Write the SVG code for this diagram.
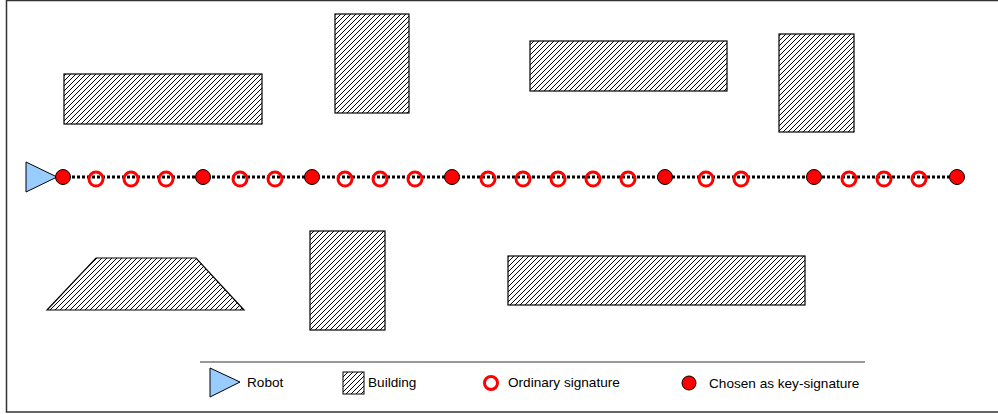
<svg xmlns="http://www.w3.org/2000/svg" width="998" height="414" viewBox="0 0 998 414">
<defs>
<pattern id="hatch" patternUnits="userSpaceOnUse" width="5" height="5">
<path d="M-1,1 L1,-1 M0,5 L5,0 M4,6 L6,4" stroke="#000" stroke-width="1"/>
</pattern>
</defs>
<style>
.bld{fill:url(#hatch);stroke:#000;stroke-width:1.2}
.key{fill:#ff0000;stroke:#000;stroke-width:1}
.ord{fill:none;stroke:#ff0000;stroke-width:3}
.robot{fill:#99ccff;stroke:#000;stroke-width:1}
.lbl{font-family:"Liberation Sans",Arial,sans-serif;font-size:13.6px;fill:#000}
</style>
<rect x="0" y="0" width="998" height="414" fill="#fff"/>
<rect x="6.5" y="0.5" width="1000" height="411.5" fill="none" stroke="#333" stroke-width="1.5"/>
<g id="building1"><rect class="bld" x="64" y="74" width="198" height="50"/></g>
<g id="building2"><rect class="bld" x="335" y="14" width="74" height="99"/></g>
<g id="building3"><rect class="bld" x="530" y="41" width="197" height="50"/></g>
<g id="building4"><rect class="bld" x="779" y="34" width="75" height="98"/></g>
<g id="building5"><polygon class="bld" points="96,258 196,258 244,310 47,310"/></g>
<g id="building6"><rect class="bld" x="310" y="231" width="75" height="99"/></g>
<g id="building7"><rect class="bld" x="508" y="256" width="297" height="49"/></g>
<g id="connectors">
<line x1="57" y1="177" x2="963" y2="177" stroke="#000" stroke-width="3" stroke-dasharray="3,2"/>
</g>
<g id="robot"><polygon class="robot" points="26,162 57,177 26,192"/></g>
<g id="signatures">
<circle class="key" cx="63" cy="177" r="7.5"/>
<circle class="ord" cx="96" cy="179" r="7"/>
<circle class="ord" cx="131" cy="179" r="7"/>
<circle class="ord" cx="166" cy="179" r="7"/>
<circle class="key" cx="203" cy="177" r="7.5"/>
<circle class="ord" cx="240" cy="179" r="7"/>
<circle class="ord" cx="275" cy="179" r="7"/>
<circle class="key" cx="312" cy="177" r="7.5"/>
<circle class="ord" cx="345" cy="179" r="7"/>
<circle class="ord" cx="380" cy="179" r="7"/>
<circle class="ord" cx="415" cy="179" r="7"/>
<circle class="key" cx="452" cy="177" r="7.5"/>
<circle class="ord" cx="488" cy="179" r="7"/>
<circle class="ord" cx="523" cy="179" r="7"/>
<circle class="ord" cx="558" cy="179" r="7"/>
<circle class="ord" cx="593" cy="179" r="7"/>
<circle class="ord" cx="628" cy="179" r="7"/>
<circle class="key" cx="665" cy="177" r="7.5"/>
<circle class="ord" cx="706" cy="179" r="7"/>
<circle class="ord" cx="741" cy="179" r="7"/>
<circle class="key" cx="814" cy="177" r="7.5"/>
<circle class="ord" cx="849" cy="179" r="7"/>
<circle class="ord" cx="884" cy="179" r="7"/>
<circle class="ord" cx="919" cy="179" r="7"/>
<circle class="key" cx="957" cy="177" r="7.5"/>
</g>
<g id="legend">
<line x1="200" y1="362" x2="865" y2="362" stroke="#333" stroke-width="1"/>
<polygon class="robot" points="210,368 240,382 210,397"/>
<text class="lbl" x="247" y="387">Robot</text>
<rect class="bld" x="343" y="372" width="21" height="22" style="stroke-width:1"/>
<text class="lbl" x="368" y="387">Building</text>
<circle class="ord" cx="491" cy="383" r="6.5"/>
<text class="lbl" x="508" y="387">Ordinary signature</text>
<circle class="key" cx="689" cy="383" r="7"/>
<text class="lbl" x="709" y="388">Chosen as key-signature</text>
</g>
</svg>
